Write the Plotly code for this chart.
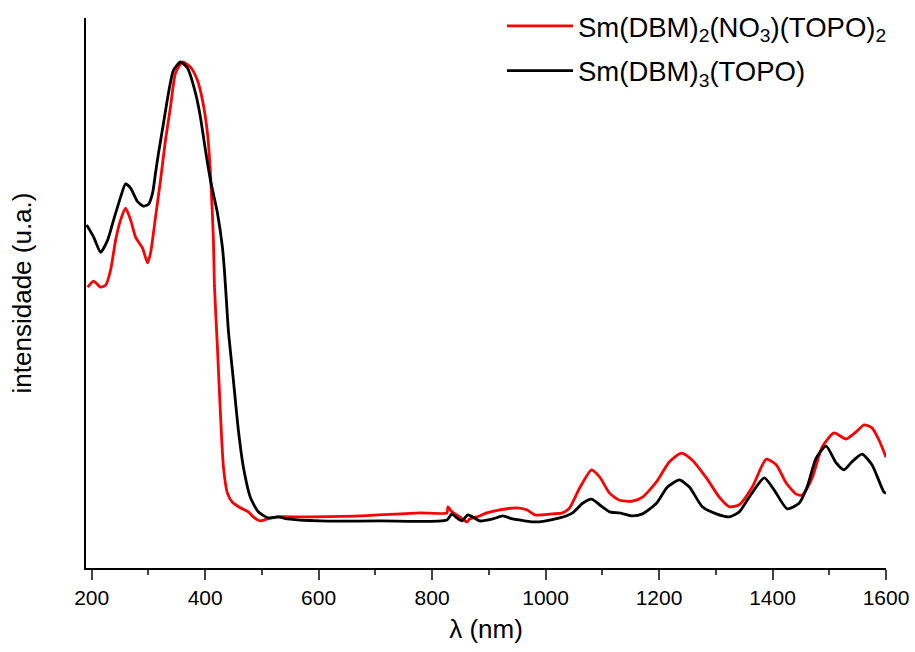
import plotly.graph_objects as go

# Sm(DBM)3(TOPO)  (black)
wl_black = [191.2, 203.5, 215.8, 228.1, 238.7, 251.0, 259.8, 268.6, 280.9, 291.5, 300.2, 307.3,
            312.6, 317.8, 326.6, 335.4, 344.2, 356.5, 368.8, 382.9, 391.7, 400.5, 409.3, 421.6,
            430.4, 433.9, 437.4, 440.9, 449.7, 458.5, 467.3, 479.6, 493.7, 511.3, 528.9, 544.7,
            602.7, 708.3, 826.1, 834.9, 843.7, 852.5, 863.0, 871.8, 884.1, 907.0, 924.6, 942.2,
            984.4, 1024.8, 1047.7, 1065.3, 1081.1, 1095.2, 1112.8, 1130.3, 1153.2, 1170.8, 1195.4,
            1214.8, 1235.9, 1253.5, 1276.3, 1301.0, 1323.8, 1341.4, 1359.0, 1385.4, 1403.0, 1425.8,
            1446.9, 1461.0, 1476.8, 1494.4, 1512.0, 1526.1, 1540.1, 1557.7, 1575.3, 1596.4, 1600.0]
int_black = [0.676, 0.652, 0.622, 0.646, 0.686, 0.731, 0.757, 0.749, 0.722, 0.713, 0.717, 0.739,
             0.779, 0.818, 0.877, 0.937, 0.982, 0.998, 0.986, 0.937, 0.889, 0.824, 0.765, 0.700,
             0.632, 0.587, 0.528, 0.468, 0.370, 0.271, 0.198, 0.138, 0.109, 0.097, 0.099, 0.095,
             0.091, 0.091, 0.093, 0.105, 0.097, 0.091, 0.103, 0.099, 0.091, 0.095, 0.101, 0.095,
             0.089, 0.097, 0.107, 0.126, 0.134, 0.123, 0.109, 0.107, 0.101, 0.105, 0.126,
             0.158, 0.172, 0.158, 0.119, 0.105, 0.099, 0.109, 0.138, 0.176, 0.152, 0.115,
             0.126, 0.158, 0.215, 0.239, 0.206, 0.192, 0.208, 0.223, 0.202, 0.148, 0.146]

# Sm(DBM)2(NO3)(TOPO)2  (red)
wl_red = [193.0, 203.5, 215.8, 224.6, 233.4, 242.2, 251.0, 259.8, 268.6, 277.4, 289.7, 298.5,
          303.8, 312.6, 321.4, 330.1, 338.9, 347.7, 360.0, 374.1, 386.4, 395.2, 404.0, 409.3,
          414.6, 416.3, 421.6, 426.9, 432.2, 439.2, 448.0, 462.1, 476.1, 484.9, 497.2, 509.5,
          527.1, 567.6, 673.1, 778.6, 826.1, 827.9, 834.9, 849.0, 861.3, 866.5, 878.9, 896.4,
          919.3, 949.2, 966.8, 980.9, 1012.5, 1030.1, 1042.4, 1060.0, 1081.1, 1095.2, 1112.8,
          1130.3, 1153.2, 1170.8, 1195.4, 1218.3, 1239.4, 1258.7, 1283.4, 1306.2, 1323.8, 1341.4,
          1364.3, 1388.9, 1406.5, 1424.1, 1441.7, 1452.2, 1469.8, 1487.4, 1508.5, 1529.6, 1547.2,
          1561.3, 1575.3, 1587.6, 1600.0]
int_red = [0.553, 0.565, 0.553, 0.557, 0.587, 0.646, 0.686, 0.709, 0.686, 0.652, 0.630, 0.601,
           0.621, 0.692, 0.765, 0.844, 0.909, 0.976, 0.998, 0.988, 0.962, 0.923, 0.858, 0.779,
           0.646, 0.557, 0.435, 0.304, 0.198, 0.146, 0.128, 0.117, 0.109, 0.099, 0.091, 0.095,
           0.099, 0.099, 0.101, 0.107, 0.107, 0.119, 0.109, 0.099, 0.089, 0.095, 0.099, 0.107,
           0.113, 0.117, 0.113, 0.103, 0.105, 0.107, 0.117, 0.156, 0.192, 0.178, 0.146,
           0.132, 0.130, 0.138, 0.168, 0.208, 0.225, 0.211, 0.176, 0.138, 0.119, 0.123,
           0.158, 0.213, 0.202, 0.166, 0.144, 0.142, 0.176, 0.237, 0.265, 0.253, 0.267,
           0.281, 0.275, 0.251, 0.217]

x_ticks = [200, 400, 600, 800, 1000, 1200, 1400, 1600]
name_red = "Sm(DBM)<sub>2</sub>(NO<sub>3</sub>)(TOPO)<sub>2</sub>"
name_black = "Sm(DBM)<sub>3</sub>(TOPO)"

FONT = "Liberation Sans, Arial, sans-serif"

fig = go.Figure()
fig.add_trace(go.Scatter(x=wl_red, y=int_red, mode="lines", name=name_red, legendgroup="a",
                         line=dict(color="#ff0000", width=2.8, shape="spline", smoothing=0.6)))
fig.add_trace(go.Scatter(x=wl_black, y=int_black, mode="lines", name=name_black, legendgroup="b",
                         line=dict(color="#000000", width=2.8, shape="spline", smoothing=0.6)))

fig.update_layout(
    width=915, height=652,
    margin=dict(l=86, r=29, t=18, b=84, autoexpand=False),
    plot_bgcolor="white", paper_bgcolor="white",
    font=dict(family=FONT, size=21, color="black"),
    showlegend=True,
    legend=dict(x=0.52, y=1.03, xanchor="left", yanchor="top",
                bgcolor="rgba(0,0,0,0)", font=dict(size=27.5, family=FONT),
                itemwidth=66, tracegroupgap=6),
    xaxis=dict(range=[190, 1600], tickvals=x_ticks, ticks="outside", ticklen=10, tickwidth=1.5,
               showline=True, linecolor="black", linewidth=1.5, showgrid=False, zeroline=False,
               tickfont=dict(size=21), title=dict(text="λ (nm)", font=dict(size=26), standoff=12),
               minor=dict(dtick=100, tick0=0, ticks="outside", ticklen=5, tickwidth=1.5, showgrid=False),
               mirror=False, automargin=False),
    yaxis=dict(range=[-0.002, 1.085], showticklabels=False, ticks="", showline=True,
               linecolor="black", linewidth=1.5, showgrid=False, zeroline=False, automargin=False,
               title=dict(text="intensidade (u.a.)", font=dict(size=26), standoff=45)),
)

fig.write_html("out.html", config={"displayModeBar": False},
               post_script="document.body.style.margin='0';")
